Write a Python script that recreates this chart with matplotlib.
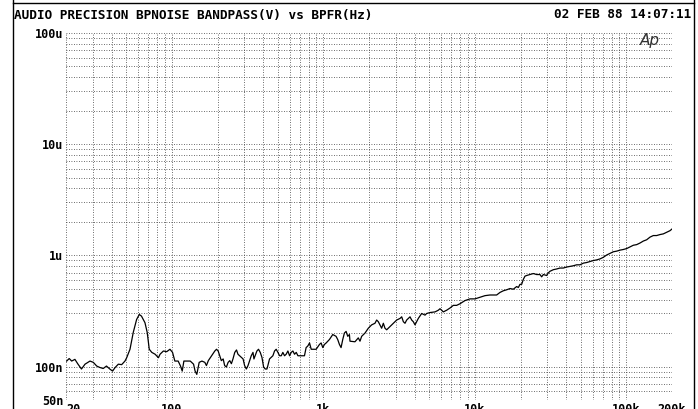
import numpy as np
import matplotlib.pyplot as plt
from matplotlib.ticker import LogLocator, FuncFormatter
from matplotlib.lines import Line2D

# bandpass noise sweep, frequency in Hz and level in nV
freq_hz = [
    20.2, 21, 21.8, 22.9, 24, 25.3, 26.7, 28.8, 30.3, 31.9, 33.5, 35.2, 37.0, 38.9,
    40.6, 42.2, 44.3, 46.6, 49.0, 50.3, 52.9, 55.6, 58.5, 60.9, 63.0, 66.4, 68.7,
    70.9, 73.7, 77.5, 81.5, 83.5, 87.9, 92.4, 97.1, 101, 104.6, 110, 114, 117, 120,
    125.7, 132.2, 139, 142.3, 146, 151.4, 157.9, 165, 169, 174, 183, 192, 197, 202,
    207, 212, 218, 223, 229, 235, 241, 247, 253, 260, 267, 273, 280, 287, 295, 302,
    310, 318, 326, 334, 343, 348, 364, 373, 383, 393, 403, 413, 424, 430, 441, 452,
    464, 476, 488, 501, 514, 527, 540, 554, 568, 583, 598, 613, 629, 645, 662, 679,
    714, 750, 769, 789, 810, 831, 896, 942, 966, 991, 1016, 1043, 1096, 1153, 1212,
    1243, 1276, 1308, 1342, 1376, 1412, 1448, 1485, 1498, 1616, 1700, 1744, 1789,
    1882, 1979, 2082, 2190, 2247, 2304, 2424, 2487, 2550, 2616, 2753, 2896, 3047,
    3206, 3287, 3371, 3457, 3546, 3730, 3826, 3923, 4024, 4127, 4233, 4453, 4685,
    4805, 5056, 5453, 5736, 5883, 6034, 6188, 6510, 6850, 7205, 7578, 7972, 8602,
    9282, 10014, 10805, 11659, 12580, 13919, 14643, 15399, 16208, 17047, 17931,
    18860, 19354, 19849, 20358, 20882, 21407, 21961, 23099, 24298, 25571, 26889,
    27583, 28297, 29766, 30514, 31296, 32940, 34634, 36446, 38334, 40326, 42423,
    44625, 46947, 49389, 51951, 54662, 57493, 60489, 63635, 66946, 70421, 74076,
    77941, 81986, 86255, 90734, 95453, 100411, 105639, 111122, 116904, 122986,
    129382, 136108, 143194, 150549, 158339, 166578, 175266, 184404, 193991, 200000,
]
level_nv = [
    112, 118, 112, 116, 105, 95, 105, 112, 109, 101, 98, 96, 101, 95,
    91, 98, 105, 104, 112, 120, 143, 203, 265, 294, 284, 248, 203,
    143, 134, 129, 120, 129, 138, 136, 143, 134, 112, 112, 101, 91, 112,
    112, 112, 105, 91, 85, 109, 112, 109, 102, 113, 125, 138, 143, 138,
    125, 113, 117, 102, 99, 109, 113, 106, 117, 134, 141, 129, 125, 121, 117, 102,
    95, 102, 113, 125, 134, 117, 138, 143, 134, 121, 99, 95, 95, 102, 117, 121,
    125, 138, 143, 134, 125, 125, 134, 125, 129, 138, 125, 134, 138, 129, 134, 125,
    125, 125, 148, 153, 163, 143, 143, 158, 163, 148, 158, 163, 175, 194, 187,
    175, 158, 148, 175, 200, 207, 187, 194, 169, 167, 181, 169, 187,
    200, 221, 237, 245, 262, 253, 221, 245, 221, 214, 229, 245, 262,
    271, 280, 253, 245, 262, 280, 262, 253, 237, 253, 271, 300, 290,
    300, 306, 310, 321, 331, 321, 310, 321, 336, 355, 355, 367, 392,
    406, 406, 420, 434, 440, 440, 464, 480, 490, 503, 496,
    524, 514, 549, 549, 608, 650, 659, 672, 686, 672, 672,
    641, 672, 659, 695, 719, 743, 754, 769, 769, 785, 796,
    806, 822, 822, 851, 862, 880, 898, 910, 929, 960, 1007,
    1041, 1077, 1091, 1114, 1129, 1151, 1191, 1233, 1249, 1291,
    1345, 1381, 1459, 1507, 1507, 1538, 1560, 1614, 1667, 1726,
]

x_labels = {20: "20", 100: "100", 1000: "1k", 10000: "10k", 100000: "100k", 200000: "200k"}
y_labels = {1e-4: "100u", 1e-5: "10u", 1e-6: "1u", 1e-7: "100n", 5e-8: "50n"}

mono = "DejaVu Sans Mono"

fig = plt.figure(figsize=(6.98, 4.09), dpi=100)
ax = fig.add_axes([66 / 698, 9 / 409, 606 / 698, 367 / 409])

ax.plot(freq_hz, np.array(level_nv) * 1e-9, color="black", lw=0.9)
ax.set_xscale("log")
ax.set_yscale("log")
ax.set_xlim(20, 200000)
ax.set_ylim(5e-8, 1e-4)

# every 1..9 step of each decade gets a dotted grid line
for axis in (ax.xaxis, ax.yaxis):
    axis.set_major_locator(LogLocator(base=10, subs=np.arange(1, 10), numticks=50))
    axis.set_minor_locator(LogLocator(base=10, subs=[], numticks=50))


def pick(labels):
    def fmt(v, pos):
        for k, s in labels.items():
            if abs(v - k) / k < 1e-6:
                return s
        return ""
    return FuncFormatter(fmt)


ax.xaxis.set_major_formatter(pick(x_labels))
ax.yaxis.set_major_formatter(pick(y_labels))
ax.tick_params(length=0, labelsize=8.5, pad=2)
fig.canvas.draw()
for lab in ax.get_xticklabels() + ax.get_yticklabels():
    lab.set_fontfamily(mono)
    lab.set_fontweight("bold")
    if lab.get_text() == "20":
        lab.set_horizontalalignment("left")

ax.grid(True, which="major", color="#3a3a3a", lw=0.6, linestyle=(0, (1, 2)))
for s in ax.spines.values():
    s.set_visible(False)

fig.text(14 / 698, 1 - 15 / 409, "AUDIO PRECISION BPNOISE BANDPASS(V) vs BPFR(Hz)",
         family=mono, weight="bold", fontsize=9.2, va="center", ha="left")
fig.text(691 / 698, 1 - 15 / 409, "02 FEB 88 14:07:11",
         family=mono, weight="bold", fontsize=9.2, va="center", ha="right")
fig.text(650 / 698, 1 - 40 / 409, "Ap", family="DejaVu Sans", style="italic",
         fontsize=11, color="#333333", va="center", ha="center")

# page border of the printout: two sides and the top edge
for xy in (([13, 13], [0, 409]), ([694, 694], [0, 409]), ([13, 694], [406, 406])):
    fig.add_artist(Line2D(np.array(xy[0]) / 698, np.array(xy[1]) / 409,
                          color="black", lw=1.0))

fig.savefig("out.png", dpi=100)
